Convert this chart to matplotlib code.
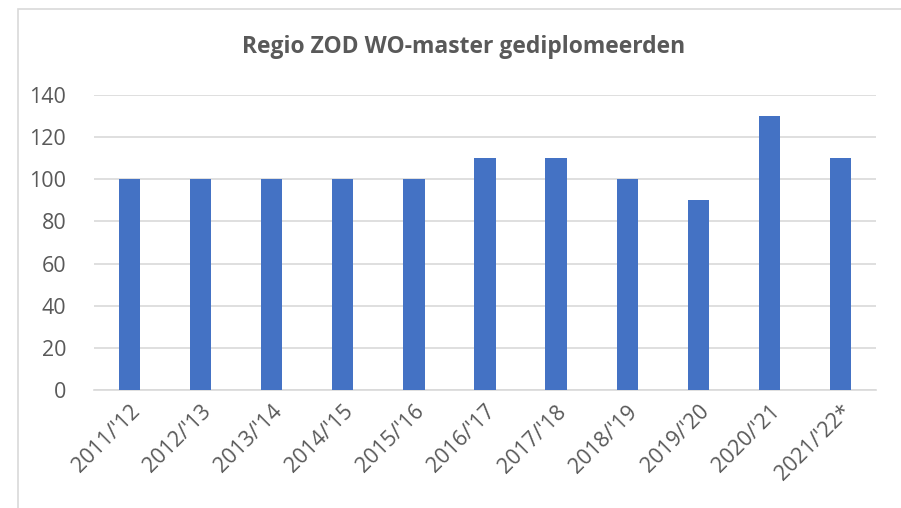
import matplotlib.pyplot as plt
from matplotlib.patches import Rectangle

plt.rcParams['font.family'] = ['Open Sans', 'DejaVu Sans']

jaren = ["2011/'12", "2012/'13", "2013/'14", "2014/'15", "2015/'16", "2016/'17",
         "2017/'18", "2018/'19", "2019/'20", "2020/'21", "2021/'22*"]
gediplomeerden = [100, 100, 100, 100, 100, 110, 110, 100, 90, 130, 110]

W, H = 901, 508
fig = plt.figure(figsize=(W / 100, H / 100), dpi=100)

# chart border (runs off the right/bottom edge like the screenshot)
fig.patches.append(Rectangle((18 / W, -0.1), 1.1, (H - 9) / H + 0.1,
                             transform=fig.transFigure, fill=False,
                             edgecolor='#d9d9d9', lw=1.2))

ax = fig.add_axes([94 / W, (H - 390) / H, (876 - 94) / W, (390 - 95) / H])
x = range(len(jaren))
ax.bar(x, gediplomeerden, width=0.3, color='#4472c4', zorder=3)

ax.set_xlim(-0.5, len(jaren) - 0.5)
ax.set_ylim(0, 140)
ax.set_yticks(range(0, 141, 20))
ax.grid(axis='y', color='#d9d9d9', lw=1.2, zorder=0)
for s in ['top', 'right', 'left']:
    ax.spines[s].set_visible(False)
ax.spines['bottom'].set_color('#d9d9d9')
ax.spines['bottom'].set_linewidth(1.2)
ax.tick_params(length=0, labelsize=15.5, labelcolor='#595959')
ax.tick_params(axis='y', pad=20)
ax.set_xticks(list(x))
ax.set_xticklabels(jaren, rotation=45, ha='right', rotation_mode='anchor')
ax.tick_params(axis='x', pad=8)

fig.text(464 / W, 1 - 47 / H, 'Regio ZOD WO-master gediplomeerden',
         ha='center', va='center', fontsize=16.5, fontweight='bold',
         color='#595959')

fig.savefig('out.png', dpi=100)
